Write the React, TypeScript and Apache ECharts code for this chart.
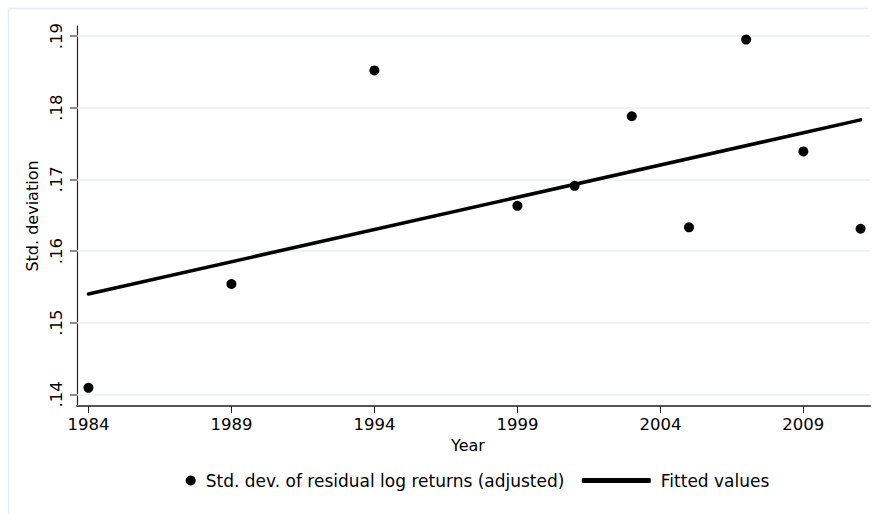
import React, { useEffect, useRef } from "react";
import * as echarts from "echarts";

const years = [1984, 1989, 1994, 1999, 2001, 2003, 2005, 2007, 2009, 2011];
const stdDev = [0.1409, 0.1554, 0.1852, 0.1663, 0.1691, 0.1788, 0.1633, 0.1895, 0.1739, 0.1631];
const fittedYears = [1984, 2011];
const fittedValues = [0.154, 0.1783];
const xTicks = [1984, 1989, 1994, 1999, 2004, 2009];
const yTicks = [0.14, 0.15, 0.16, 0.17, 0.18, 0.19];

const scatterName = "Std. dev. of residual log returns (adjusted)";
const lineName = "Fitted values";
const FONT = "DejaVu Sans";

export default function App() {
  const ref = useRef<HTMLDivElement>(null);
  useEffect(() => {
    if (!ref.current) return;
    const chart = echarts.init(ref.current, undefined, { renderer: "svg" });
    chart.setOption({
      animation: false,
      backgroundColor: "#ffffff",
      textStyle: { fontFamily: FONT, color: "#000" },
      grid: { left: 77, top: 26, width: 793, height: 380, containLabel: false },
      graphic: [
        { type: "line", silent: true, shape: { x1: 8.5, y1: 8.5, x2: 868, y2: 8.5 }, style: { stroke: "#e4ecef", lineWidth: 1.5 } },
        { type: "line", silent: true, shape: { x1: 8.5, y1: 8.5, x2: 8.5, y2: 514 }, style: { stroke: "#e4ecef", lineWidth: 1.5 } },
      ],
      xAxis: {
        type: "value",
        min: 1983.6,
        max: 2011.33,
        name: "Year",
        nameLocation: "middle",
        nameGap: 30,
        nameTextStyle: { fontFamily: FONT, fontSize: 16, color: "#000", padding: [0, 11, 0, 0] },
        axisLine: { show: true, onZero: false, lineStyle: { color: "#555", width: 2 } },
        axisTick: { show: true, inside: false, length: 7, customValues: xTicks, lineStyle: { color: "#222", width: 1 } },
        axisLabel: { customValues: xTicks, margin: 10, fontFamily: FONT, fontSize: 16.5, color: "#000", formatter: (v: number) => String(v) },
        splitLine: { show: false },
      },
      yAxis: {
        type: "value",
        min: 0.13837,
        max: 0.1914,
        name: "Std. deviation",
        nameLocation: "middle",
        nameGap: 30,
        nameRotate: 90,
        nameTextStyle: { fontFamily: FONT, fontSize: 16, color: "#000" },
        axisLine: { show: true, onZero: false, lineStyle: { color: "#222", width: 1.2 } },
        axisTick: { show: true, inside: false, length: 7, customValues: yTicks, lineStyle: { color: "#666", width: 1.5 } },
        axisLabel: {
          customValues: yTicks,
          rotate: 90,
          margin: 12,
          fontFamily: FONT,
          fontSize: 16.5,
          color: "#000",
          formatter: (v: number) => "." + Math.round(v * 100),
        },
        splitLine: { show: false },
      },
      legend: [
        {
          data: [{ name: scatterName, icon: "circle" }],
          left: 180.7,
          top: 467,
          itemWidth: 20,
          itemHeight: 10,
          selectedMode: false,
          itemStyle: { color: "#000", opacity: 1 },
          textStyle: { fontFamily: FONT, fontSize: 17, color: "#000" },
        },
        {
          data: [{ name: lineName, icon: "roundRect" }],
          left: 576.8,
          top: 467,
          itemWidth: 69,
          itemHeight: 5,
          selectedMode: false,
          itemStyle: { color: "#000" },
          textStyle: { fontFamily: FONT, fontSize: 17, color: "#000", padding: [0, 0, 0, 5] },
        },
      ],
      series: [
        {
          name: scatterName,
          type: "scatter",
          symbol: "circle",
          symbolSize: 10,
          itemStyle: { color: "#000", opacity: 1 },
          data: years.map((y, i) => [y, stdDev[i]]),
          z: 5,
          markLine: {
            silent: true,
            symbol: "none",
            label: { show: false },
            lineStyle: { color: "#e8f0f2", width: 1.5, type: "solid" },
            emphasis: { disabled: true },
            data: yTicks.map((t) => ({ yAxis: t })),
            z: 1,
          },
        },
        {
          name: lineName,
          type: "line",
          showSymbol: false,
          symbol: "none",
          lineStyle: { color: "#000", width: 3.5, cap: "round" },
          itemStyle: { color: "#000" },
          data: fittedYears.map((y, i) => [y, fittedValues[i]]),
          z: 4,
        },
      ],
    });
    return () => chart.dispose();
  }, []);
  return <div ref={ref} style={{ position: "fixed", left: 0, top: 0, width: 873, height: 514 }} />;
}
